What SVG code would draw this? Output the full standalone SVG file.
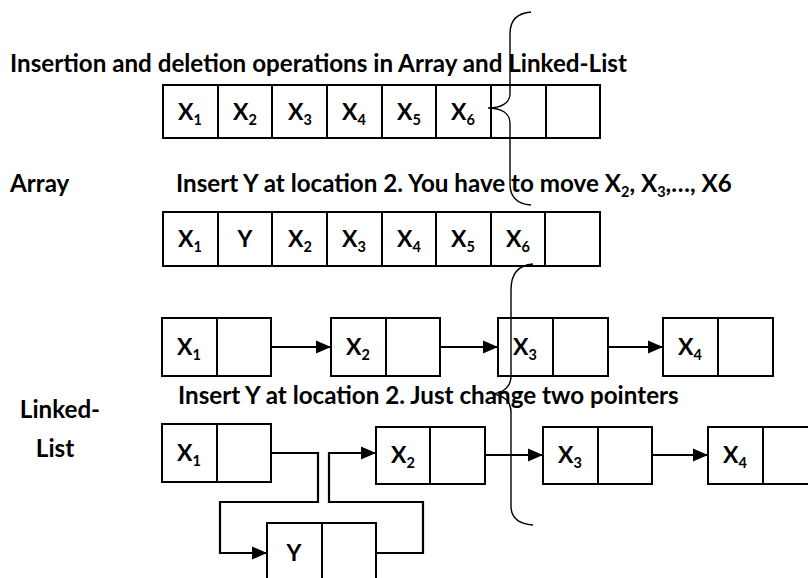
<svg xmlns="http://www.w3.org/2000/svg" width="808" height="578" viewBox="0 0 808 578">
  <style>
    .box { fill: #ffffff; stroke: #000000; stroke-width: 2; }
    .div { stroke: #000000; stroke-width: 2; }
    .wire { fill: none; stroke: #000000; stroke-width: 2.2; }
    .brace { fill: none; stroke: #000000; stroke-width: 1.4; }
    .txt { font-family: Lato, "Liberation Sans", sans-serif; font-weight: bold; font-size: 24.2px; fill: #000000; }
    .lbl { font-family: Lato, "Liberation Sans", sans-serif; font-weight: bold; font-size: 23px; fill: #000000; text-anchor: middle; }
    .sub { font-size: 14.5px; }
  </style>
  <defs>
    <marker id="arrow" markerUnits="userSpaceOnUse" markerWidth="15" markerHeight="14" viewBox="0 0 15 14" refX="15" refY="7" orient="auto">
      <path d="M0,0.5 L15,7 L0,13.5 Z" fill="#000000"/>
    </marker>
  </defs>
  <rect width="808" height="578" fill="#ffffff"/>

  <!-- headings and side labels -->
  <text class="txt" x="10" y="72">Insertion and deletion operations in Array and Linked-List</text>
  <text class="txt" x="10" y="192">Array</text>
  <text class="txt" x="176" y="192">Insert Y at location 2. You have to move X<tspan class="sub" dy="5">2</tspan><tspan dy="-5">, X</tspan><tspan class="sub" dy="5">3</tspan><tspan dy="-5">,…, X6</tspan></text>
  <text class="txt" x="178" y="404">Insert Y at location 2. Just change two pointers</text>
  <text class="txt" x="60" y="418" text-anchor="middle">Linked-</text>
  <text class="txt" x="55" y="457" text-anchor="middle">List</text>

  <!-- array before insertion -->
  <g id="array-before">
    <rect class="box" x="163" y="85" width="437" height="53"/>
    <path class="div" d="M218,85V138 M272,85V138 M327,85V138 M382,85V138 M436,85V138 M491,85V138 M546,85V138"/>
    <text class="lbl" x="190" y="120">X<tspan class="sub" dy="5">1</tspan></text>
    <text class="lbl" x="245" y="120">X<tspan class="sub" dy="5">2</tspan></text>
    <text class="lbl" x="300" y="120">X<tspan class="sub" dy="5">3</tspan></text>
    <text class="lbl" x="354" y="120">X<tspan class="sub" dy="5">4</tspan></text>
    <text class="lbl" x="409" y="120">X<tspan class="sub" dy="5">5</tspan></text>
    <text class="lbl" x="463" y="120">X<tspan class="sub" dy="5">6</tspan></text>
  </g>

  <!-- array after insertion -->
  <g id="array-after">
    <rect class="box" x="163" y="212" width="437" height="54"/>
    <path class="div" d="M218,212V266 M272,212V266 M327,212V266 M382,212V266 M436,212V266 M491,212V266 M545,212V266"/>
    <text class="lbl" x="190" y="247">X<tspan class="sub" dy="5">1</tspan></text>
    <text class="lbl" x="245" y="247">Y</text>
    <text class="lbl" x="300" y="247">X<tspan class="sub" dy="5">2</tspan></text>
    <text class="lbl" x="354" y="247">X<tspan class="sub" dy="5">3</tspan></text>
    <text class="lbl" x="409" y="247">X<tspan class="sub" dy="5">4</tspan></text>
    <text class="lbl" x="463" y="247">X<tspan class="sub" dy="5">5</tspan></text>
    <text class="lbl" x="518" y="247">X<tspan class="sub" dy="5">6</tspan></text>
  </g>

  <!-- linked list before insertion -->
  <g id="ll1-x1">
    <rect class="box" x="162" y="318" width="109" height="58"/>
    <path class="div" d="M217,318V376"/>
    <text class="lbl" x="189" y="355">X<tspan class="sub" dy="5">1</tspan></text>
  </g>
  <g id="ll1-x2">
    <rect class="box" x="331" y="318" width="109" height="58"/>
    <path class="div" d="M386,318V376"/>
    <text class="lbl" x="358" y="355">X<tspan class="sub" dy="5">2</tspan></text>
  </g>
  <g id="ll1-x3">
    <rect class="box" x="498" y="318" width="110" height="58"/>
    <path class="div" d="M553,318V376"/>
    <text class="lbl" x="525" y="355">X<tspan class="sub" dy="5">3</tspan></text>
  </g>
  <g id="ll1-x4">
    <rect class="box" x="663" y="318" width="110" height="58"/>
    <path class="div" d="M718,318V376"/>
    <text class="lbl" x="690" y="355">X<tspan class="sub" dy="5">4</tspan></text>
  </g>

  <!-- linked list after insertion -->
  <g id="ll2-x1">
    <rect class="box" x="162" y="424" width="109" height="58"/>
    <path class="div" d="M217,424V482"/>
    <text class="lbl" x="189" y="461">X<tspan class="sub" dy="5">1</tspan></text>
  </g>
  <g id="ll2-x2">
    <rect class="box" x="376" y="427" width="109" height="57"/>
    <path class="div" d="M430,427V484"/>
    <text class="lbl" x="403" y="463">X<tspan class="sub" dy="5">2</tspan></text>
  </g>
  <g id="ll2-x3">
    <rect class="box" x="543" y="427" width="109" height="57"/>
    <path class="div" d="M598,427V484"/>
    <text class="lbl" x="570" y="463">X<tspan class="sub" dy="5">3</tspan></text>
  </g>
  <g id="ll2-x4">
    <rect class="box" x="708" y="427" width="110" height="57"/>
    <path class="div" d="M763,427V484"/>
    <text class="lbl" x="735" y="463">X<tspan class="sub" dy="5">4</tspan></text>
  </g>
  <g id="ll2-y">
    <rect class="box" x="267" y="523" width="109" height="62"/>
    <path class="div" d="M322,523V585"/>
    <text class="lbl" x="294" y="561">Y</text>
  </g>

  <!-- pointers -->
  <g id="connectors">
    <path class="wire" d="M271,347H331" marker-end="url(#arrow)"/>
    <path class="wire" d="M440,347H498" marker-end="url(#arrow)"/>
    <path class="wire" d="M608,347H663" marker-end="url(#arrow)"/>
    <path class="wire" d="M271,453H318V502H220V553H267" marker-end="url(#arrow)"/>
    <path class="wire" d="M376,553H423V502H329V453H376" marker-end="url(#arrow)"/>
    <path class="wire" d="M485,455H543" marker-end="url(#arrow)"/>
    <path class="wire" d="M652,455H708" marker-end="url(#arrow)"/>
  </g>

  <!-- curly braces -->
  <path class="brace" d="M531,12 C517,13 510,20 510,34 L510,94 C510,103 501,108 488,108 C501,108 510,113 510,123 L510,184 C510,197 517,204 531,205"/>
  <path class="brace" d="M533,264 C519,265 511,273 511,290 L511,376 C511,387 503,393 492,394 C503,395 511,401 511,412 L511,506 C511,518 519,524 533,525"/>
</svg>
